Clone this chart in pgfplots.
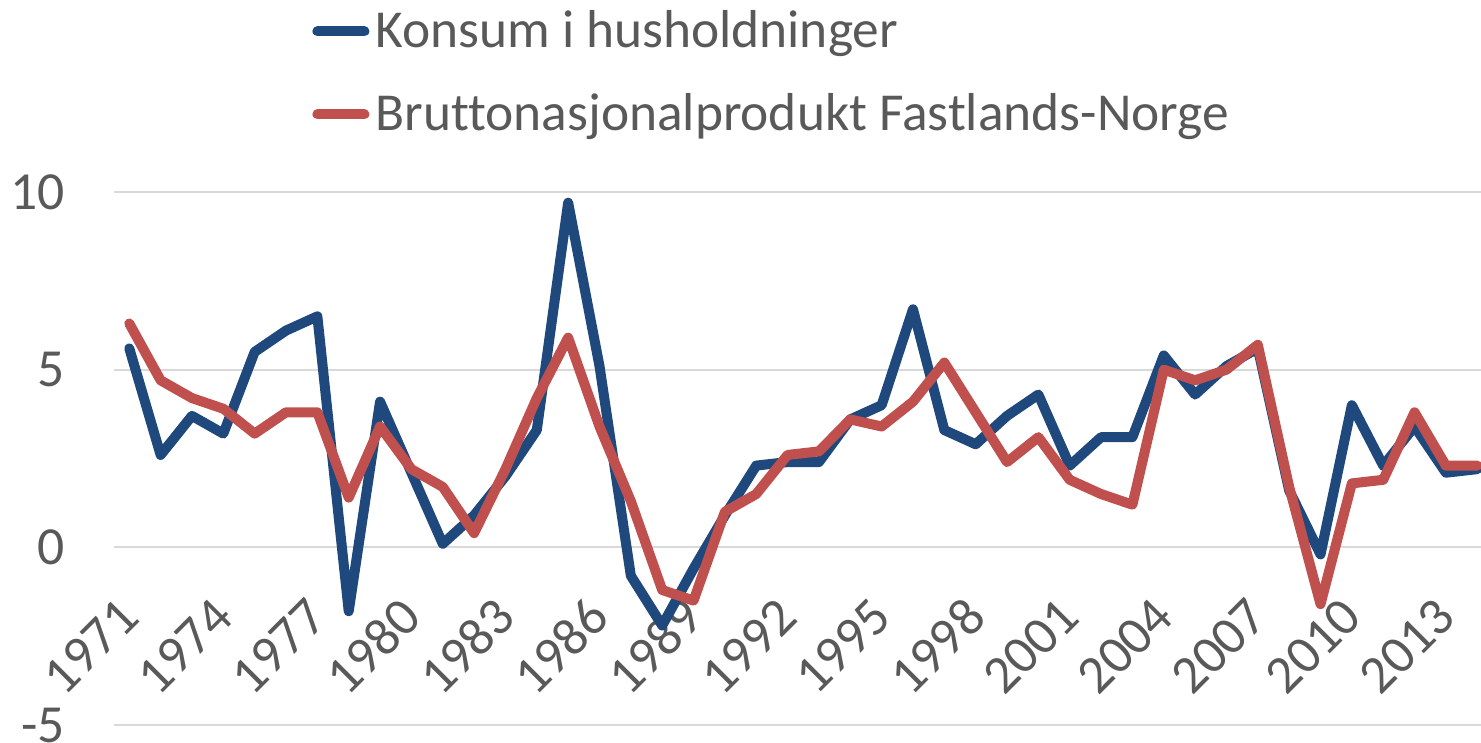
\documentclass[border=0pt]{standalone}
\usepackage{fontspec}
\setmainfont{Carlito}[Ligatures=NoCommon]
\usepackage{pgfplots}
\usepackage{pgfplotstable}
\pgfplotsset{compat=1.18}
\definecolor{kblue}{HTML}{1F497D}
\definecolor{kred}{HTML}{C0504D}
\definecolor{tgray}{HTML}{595959}
\definecolor{ggray}{HTML}{D9D9D9}
\pgfplotstableread{
year konsum bnp
1971 5.6 6.3
1972 2.6 4.7
1973 3.7 4.2
1974 3.2 3.9
1975 5.5 3.2
1976 6.1 3.8
1977 6.5 3.8
1978 -1.8 1.4
1979 4.1 3.4
1980 2.1 2.2
1981 0.1 1.7
1982 0.9 0.4
1983 2.0 2.2
1984 3.3 4.2
1985 9.7 5.9
1986 5.1 3.4
1987 -0.8 1.3
1988 -2.2 -1.2
1989 -0.6 -1.5
1990 0.9 1.0
1991 2.3 1.5
1992 2.4 2.6
1993 2.4 2.7
1994 3.6 3.6
1995 4.0 3.4
1996 6.7 4.1
1997 3.3 5.2
1998 2.9 3.8
1999 3.7 2.4
2000 4.3 3.1
2001 2.3 1.9
2002 3.1 1.5
2003 3.1 1.2
2004 5.4 5.0
2005 4.3 4.7
2006 5.1 5.0
2007 5.6 5.7
2008 1.6 1.7
2009 -0.2 -1.6
2010 4.0 1.8
2011 2.3 1.9
2012 3.4 3.8
2013 2.1 2.3
2014 2.2 2.3
}\datatable
\begin{document}
\begin{tikzpicture}
\begin{axis}[
  name=ax,
  scale only axis,
  width=683.7pt, height=266.5pt,
  xmin=1970.5, xmax=2014.12,
  ymin=-5, ymax=10,
  ytick={-5,0,5,10}, yticklabels={-5,0,5,10},
  xtick={1971,1974,1977,1980,1983,1986,1989,1992,1995,1998,2001,2004,2007,2010,2013},
  xticklabels={1971,1974,1977,1980,1983,1986,1989,1992,1995,1998,2001,2004,2007,2010,2013},
  ymajorgrids, grid style={ggray, line width=1pt},
  axis line style={draw=none},
  major tick length=0pt,
  tick label style={font=\fontsize{26.8}{30}\selectfont, text=tgray, inner sep=0pt},
  yticklabel style={anchor=east, xshift=-24.3pt},
  xticklabel style={yshift=58.7pt, rotate=45, anchor=east},
  no marks,
  every axis plot/.append style={line width=5pt, line join=round, line cap=round},
  legend cell align=left,
  legend image code/.code={\draw[#1, line width=5pt, line cap=round] (0pt,0pt) -- (23.5pt,0pt);},
  legend style={at={(axis description cs:0.1451,1.3546)}, anchor=north west,
    draw=none, fill=none, inner sep=0pt, row sep=13.5pt,
    font=\fontsize{26.7}{30}\selectfont,
    nodes={inner sep=0pt, text height=22pt, text depth=6pt, text=tgray},
    /tikz/every odd column/.append style={column sep=3pt}},
]
\addplot[kblue] table[x=year, y=konsum] {\datatable};
\addlegendentry{Konsum i husholdninger}
\addplot[kred] table[x=year, y=bnp] {\datatable};
\addlegendentry{Bruttonasjonalprodukt Fastlands-Norge}
\end{axis}
\pgfresetboundingbox
\path[use as bounding box] ([shift={(-56.8pt,-9pt)}]ax.south west) rectangle ([shift={(0pt,96pt)}]ax.north east);
\end{tikzpicture}
\end{document}
